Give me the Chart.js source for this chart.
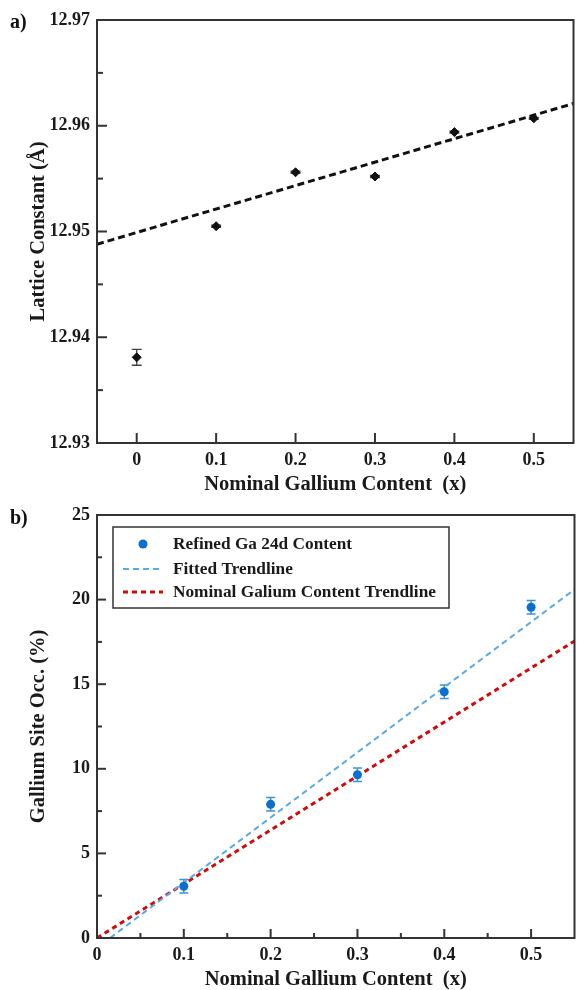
<!DOCTYPE html>
<html><head><meta charset="utf-8">
<script src="https://cdn.jsdelivr.net/npm/chart.js@4.4.1/dist/chart.umd.min.js"></script>
<style>
html,body{margin:0;padding:0;background:#fff;}
body{width:579px;height:990px;position:relative;overflow:hidden;}
.panel{position:absolute;left:0;width:579px;height:495px;}
.lab{position:absolute;font:bold 20px "Liberation Serif",serif;color:#111;line-height:20px;}
</style></head><body>
<div class="panel" style="top:0"><canvas id="c1" width="579" height="495"></canvas></div>
<div class="panel" style="top:495px"><canvas id="c2" width="579" height="495"></canvas></div>
<div class="lab" style="left:10px;top:11px">a)</div>
<div class="lab" style="left:10px;top:507px">b)</div>
<script>
// ---------- Panel a) data ----------
const latticeX = [0, 0.1, 0.2, 0.3, 0.4, 0.5];
const latticeConst = [12.9381, 12.9505, 12.9556, 12.9552, 12.9594, 12.9607];
const latticeErr = [0.00075, 0.0001, 0.0001, 0.0001, 0.0001, 0.0001];
const latticeFitX = [-0.05, 0.55];
const latticeFitY = [12.9488, 12.9621];
const aXTicks = [0, 0.1, 0.2, 0.3, 0.4, 0.5];
const aXTickLabels = ['0', '0.1', '0.2', '0.3', '0.4', '0.5'];
const aYTicks = [12.93, 12.94, 12.95, 12.96, 12.97];
const aYTickLabels = ['12.93', '12.94', '12.95', '12.96', '12.97'];
const aYMinor = [12.935, 12.945, 12.955, 12.965];

// ---------- Panel b) data ----------
const occX = [0.1, 0.2, 0.3, 0.4, 0.5];
const occValues = [3.06, 7.9, 9.65, 14.55, 19.55];
const occErr = [0.4, 0.4, 0.4, 0.4, 0.4];
const fittedX = [0.015, 0.55];
const fittedY = [0, 20.6];
const nominalX = [0, 0.55];
const nominalY = [0, 17.55];
const bXTicks = [0, 0.1, 0.2, 0.3, 0.4, 0.5];
const bXTickLabels = ['0', '0.1', '0.2', '0.3', '0.4', '0.5'];
const bXMinor = [0.05, 0.15, 0.25, 0.35, 0.45];
const bYTicks = [0, 5, 10, 15, 20, 25];
const bYTickLabels = ['0', '5', '10', '15', '20', '25'];
const bYMinor = [2.5, 7.5, 12.5, 17.5, 22.5];

const FONT = '"Liberation Serif", "Times New Roman", serif';
const INK = '#1a1a1a';

const toPts = (xs, ys) => xs.map((x, i) => ({x, y: ys[i]}));

const framePlugin = {
  id: 'frame',
  beforeDatasetsDraw(chart, args, opts) {
    const {ctx, scales: {x: xs, y: ys}} = chart;
    ctx.save();
    (opts.errorBars || []).forEach(eb => {
      const ds = chart.data.datasets[eb.dataset];
      ctx.strokeStyle = eb.color; ctx.lineWidth = eb.width;
      ds.data.forEach((p, i) => {
        const e = eb.err[i];
        const px = xs.getPixelForValue(p.x);
        const y1 = ys.getPixelForValue(p.y + e), y2 = ys.getPixelForValue(p.y - e);
        ctx.beginPath();
        ctx.moveTo(px, y1); ctx.lineTo(px, y2);
        ctx.moveTo(px - eb.cap, y1); ctx.lineTo(px + eb.cap, y1);
        ctx.moveTo(px - eb.cap, y2); ctx.lineTo(px + eb.cap, y2);
        ctx.stroke();
      });
    });
    ctx.restore();
  },
  afterDraw(chart, args, opts) {
    const {ctx, chartArea: a, scales: {x: xs, y: ys}} = chart;
    ctx.save();
    ctx.strokeStyle = '#333'; ctx.lineWidth = 2;
    const seg = (x1, y1, x2, y2) => { ctx.beginPath(); ctx.moveTo(x1, y1); ctx.lineTo(x2, y2); ctx.stroke(); };
    (opts.xMajor || []).forEach(v => { const p = xs.getPixelForValue(v); seg(p, a.bottom, p, a.bottom - opts.major); });
    (opts.xMinor || []).forEach(v => { const p = xs.getPixelForValue(v); seg(p, a.bottom, p, a.bottom - opts.minor); });
    (opts.yMajor || []).forEach(v => { const p = ys.getPixelForValue(v); seg(a.left, p, a.left + opts.major, p); });
    (opts.yMinor || []).forEach(v => { const p = ys.getPixelForValue(v); seg(a.left, p, a.left + opts.minor, p); });
    ctx.strokeRect(a.left, a.top, a.right - a.left, a.bottom - a.top);
    if (opts.legend) {
      const L = opts.legend;
      ctx.fillStyle = '#fff';
      ctx.fillRect(L.x, L.y, L.w, L.h);
      ctx.strokeStyle = '#333'; ctx.lineWidth = 1.5;
      ctx.strokeRect(L.x, L.y, L.w, L.h);
      ctx.font = 'bold 17.3px ' + FONT;
      ctx.textBaseline = 'middle';
      ctx.textAlign = 'left';
      L.items.forEach((idx, i) => {
        const ds = chart.data.datasets[idx];
        const y = L.y + L.rows[i];
        if (ds.showLine === false) {
          ctx.fillStyle = ds.pointBackgroundColor;
          ctx.beginPath(); ctx.arc(L.markX, y, ds.pointRadius, 0, Math.PI * 2); ctx.fill();
        } else {
          ctx.strokeStyle = ds.borderColor; ctx.lineWidth = ds.borderWidth;
          ctx.setLineDash(ds.borderDash);
          seg(L.lineX1, y, L.lineX2, y);
          ctx.setLineDash([]);
        }
        ctx.fillStyle = INK;
        ctx.fillText(ds.label, L.textX, y + 1);
      });
    }
    ctx.restore();
  }
};

function axisX(ticks, labels, min, max, title) {
  return {
    type: 'linear', min, max,
    afterBuildTicks: ax => { ax.ticks = ticks.map(v => ({value: v})); },
    afterFit: ax => { ax.height = 52; },
    grid: {display: false, drawTicks: false},
    border: {display: false},
    ticks: {
      callback: (v, i) => labels[i], autoSkip: false, maxRotation: 0,
      color: INK, padding: 7, font: {family: FONT, size: 18, weight: 'bold'}
    },
    title: {display: true, text: title, color: INK, padding: 0,
      font: {family: FONT, size: 20.5, weight: 'bold', lineHeight: 1.0}}
  };
}
function axisY(ticks, labels, min, max, title) {
  return {
    type: 'linear', min, max,
    afterBuildTicks: ax => { ax.ticks = ticks.map(v => ({value: v})); },
    afterFit: ax => { ax.width = 97; },
    grid: {display: false, drawTicks: false},
    border: {display: false},
    ticks: {
      callback: (v, i) => labels[i], autoSkip: false,
      color: INK, padding: 7, font: {family: FONT, size: 18, weight: 'bold'}
    },
    title: {display: true, text: title, color: INK, padding: {top: 26, bottom: 0},
      font: {family: FONT, size: 20.5, weight: 'bold', lineHeight: 1.2}}
  };
}

Chart.defaults.animation = false;

new Chart(document.getElementById('c1'), {
  type: 'scatter',
  data: {
    datasets: [
      {label: 'Lattice Constant', data: toPts(latticeX, latticeConst), showLine: false,
       pointStyle: 'rectRot', pointRadius: 4.5, pointBackgroundColor: '#111', pointBorderColor: '#111', pointBorderWidth: 1},
      {label: 'Linear fit', data: toPts(latticeFitX, latticeFitY), showLine: true, pointRadius: 0,
       borderColor: '#111', borderWidth: 3, borderDash: [7, 4], fill: false}
    ]
  },
  options: {
    responsive: false,
    layout: {padding: {top: 20, right: 1, left: 0, bottom: 0}},
    plugins: {
      legend: {display: false}, tooltip: {enabled: false},
      frame: {
        errorBars: [{dataset: 0, err: latticeErr, color: '#444', width: 1.3, cap: 5}],
        xMajor: aXTicks, xMinor: [], yMajor: aYTicks, yMinor: aYMinor, major: 10, minor: 6
      }
    },
    scales: {
      x: axisX(aXTicks, aXTickLabels, -0.05, 0.55, 'Nominal Gallium Content  (x)'),
      y: axisY(aYTicks, aYTickLabels, 12.93, 12.97, 'Lattice Constant (Å)')
    }
  },
  plugins: [framePlugin]
});

new Chart(document.getElementById('c2'), {
  type: 'scatter',
  data: {
    datasets: [
      {label: 'Refined Ga 24d Content', data: toPts(occX, occValues), showLine: false,
       pointStyle: 'circle', pointRadius: 4.5, pointBackgroundColor: '#0b6fd0', pointBorderColor: '#0b6fd0', pointBorderWidth: 0},
      {label: 'Fitted Trendline', data: toPts(fittedX, fittedY), showLine: true, pointRadius: 0,
       borderColor: '#5aaae6', borderWidth: 2, borderDash: [6, 4], fill: false},
      {label: 'Nominal Galium Content Trendline', data: toPts(nominalX, nominalY), showLine: true, pointRadius: 0,
       borderColor: '#d10a0a', borderWidth: 3, borderDash: [5, 4], fill: false}
    ]
  },
  options: {
    responsive: false,
    layout: {padding: {top: 20, right: 1, left: 0, bottom: 0}},
    plugins: {
      legend: {display: false}, tooltip: {enabled: false},
      frame: {
        errorBars: [{dataset: 0, err: occErr, color: '#3a93e0', width: 1.5, cap: 4.5}],
        xMajor: bXTicks, xMinor: bXMinor, yMajor: bYTicks, yMinor: bYMinor, major: 9, minor: 5,
        legend: {x: 113, y: 32, w: 336, h: 81, rows: [17, 42, 65], items: [0, 1, 2],
                 markX: 143, lineX1: 123, lineX2: 163, textX: 173}
      }
    },
    scales: {
      x: axisX(bXTicks, bXTickLabels, 0, 0.55, 'Nominal Gallium Content  (x)'),
      y: axisY(bYTicks, bYTickLabels, 0, 25, 'Gallium Site Occ. (%)')
    }
  },
  plugins: [framePlugin]
});
</script>
</body></html>
